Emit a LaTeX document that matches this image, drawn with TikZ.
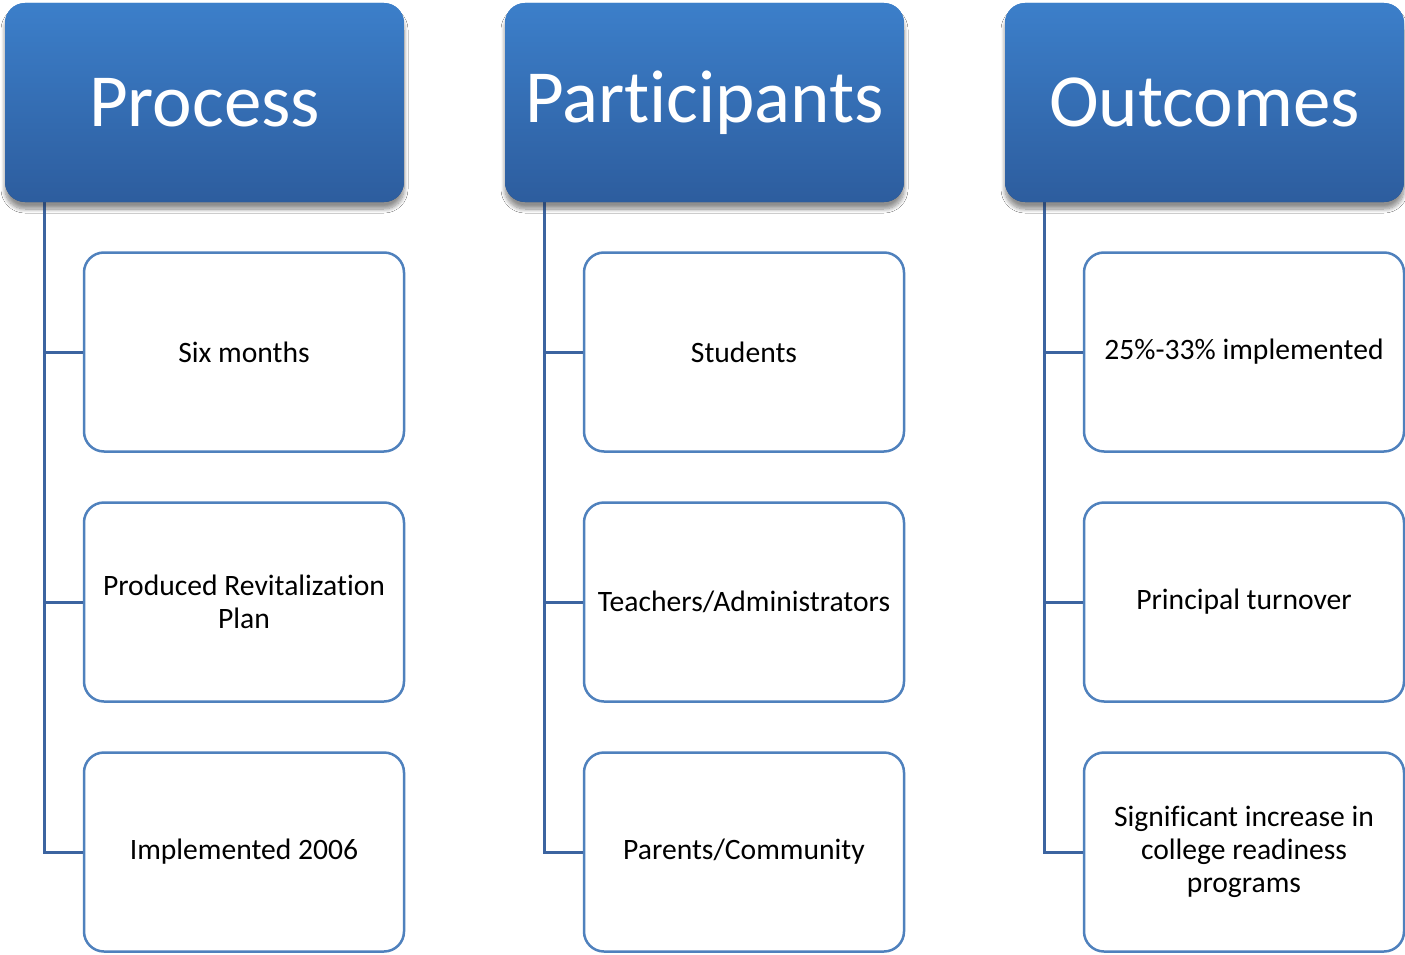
\documentclass[tikz,border=0pt]{standalone}
\usepackage{fontspec}
\setmainfont[Ligatures=NoCommon]{Carlito}
\usetikzlibrary{shadows.blur}
\definecolor{hdtop}{RGB}{60,127,202}
\definecolor{hdbot}{RGB}{45,93,158}
\definecolor{boxline}{RGB}{79,129,189}
\definecolor{conline}{RGB}{60,100,160}
\tikzset{
  header/.style={rounded corners=20pt, minimum width=399pt, minimum height=199pt,
    inner sep=0pt, top color=hdtop, bottom color=hdbot, draw=none, text=white,
    font=\fontsize{75}{90}\selectfont,
    blur shadow={shadow xshift=0pt, shadow yshift=-7pt, shadow blur steps=10, shadow blur radius=4pt, shadow opacity=25}},
  child/.style={rounded corners=20pt, minimum width=320pt, minimum height=199pt,
    inner sep=0pt, draw=boxline, line width=2.5pt, fill=white, align=center,
    font=\fontsize{29.6}{33}\selectfont},
  conn/.style={draw=conline, line width=3pt}
}
\begin{document}
\begin{tikzpicture}[x=1pt,y=-1pt]
\fill[white] (0,0) rectangle (1405,955);
\useasboundingbox (0,0) rectangle (1405,955);
% headers
\node[header] (h1) at (204.5,102.5) {Process};
\node[header] (h2) at (704.5,102.5) {Part\kern0pt icipants};
\node[header] (h3) at (1204.5,102.5) {Outcomes};
% children
\node[child] (c11) at (244,352) {Six months};
\node[child] (c12) at (244,602) {Produced Revitalizat\kern0pt ion\\Plan};
\node[child] (c13) at (244,852) {Implemented 2006};
\node[child] (c21) at (744,352) {Students};
\node[child] (c22) at (744,602) {Teachers/Administrators};
\node[child] (c23) at (744,852) {Parents/Community};
\node[child] (c31) at (1244,352) {25\%-33\% implemented};
\node[child] (c32) at (1244,602) {Principal turnover};
\node[child] (c33) at (1244,852) {Significant increase in\\college readiness\\programs};
% connectors
\coordinate (p1) at (44,202);
\coordinate (p2) at (544,202);
\coordinate (p3) at (1044,202);
\draw[conn] (p1) |- (c13.west);
\draw[conn] (c11.west -| p1) -- (c11.west);
\draw[conn] (c12.west -| p1) -- (c12.west);
\draw[conn] (p2) |- (c23.west);
\draw[conn] (c21.west -| p2) -- (c21.west);
\draw[conn] (c22.west -| p2) -- (c22.west);
\draw[conn] (p3) |- (c33.west);
\draw[conn] (c31.west -| p3) -- (c31.west);
\draw[conn] (c32.west -| p3) -- (c32.west);
% redraw headers above connector start
\node[header] at (h1) {Process};
\node[header] at (h2) {Part\kern0pt icipants};
\node[header] at (h3) {Outcomes};
\end{tikzpicture}
\end{document}
